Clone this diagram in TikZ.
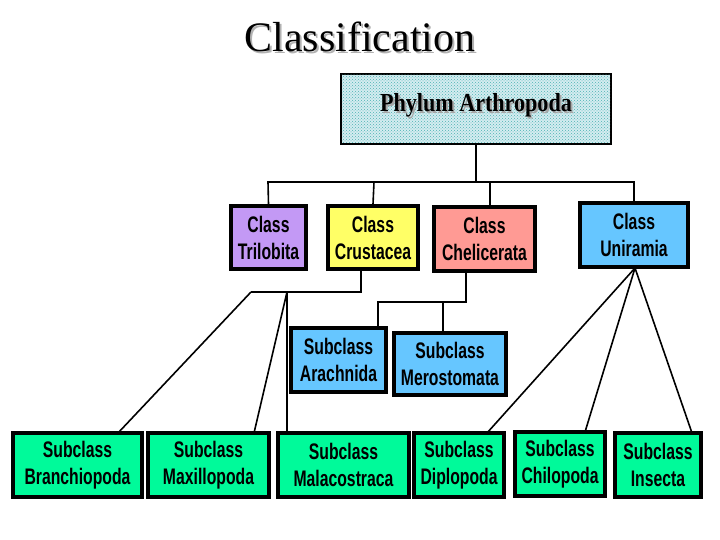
\documentclass[tikz,border=0pt]{standalone}
\usepackage{fontspec}
\setmainfont{Liberation Sans}
\newfontfamily\boxf[FakeStretch=0.7]{Liberation Sans}
\newfontfamily\serf[FakeStretch=0.85]{Liberation Serif}
\newfontfamily\titf{Liberation Serif}
\usetikzlibrary{patterns}
\definecolor{purp}{HTML}{C399F5}
\definecolor{yel}{HTML}{FFFF66}
\definecolor{sal}{HTML}{FF9A94}
\definecolor{sky}{HTML}{66C6FF}
\definecolor{grn}{HTML}{00FA9A}
\definecolor{pale}{HTML}{D4ECF0}
\tikzset{
 bx/.style={draw=black,line width=3.5pt,inner sep=0pt,align=center,font=\boxf\bfseries\fontsize{22.5}{27}\selectfont},
 ln/.style={line width=1.6pt,black},
}
\begin{document}
\begin{tikzpicture}[x=1pt,y=-1pt]
\useasboundingbox (0,0) rectangle (720,540);
\fill[white] (0,0) rectangle (720,540);
\node[font=\titf\fontsize{42}{46}\selectfont,text=black!30] (tsh) at (362,39) {Classification};
\node[font=\titf\fontsize{42}{46}\selectfont] (t) at (360,37) {Classification};
% phylum
\node[draw=black,line width=2.5pt,fill=pale,minimum width=270,minimum height=70] (ph) at (476,109) {};
\fill[pattern=crosshatch dots,pattern color=cyan!40!gray] (342,75) rectangle (610,143);
\node[font=\serf\bfseries\fontsize{26}{30}\selectfont,text=black!35] (phs) at (478,107) {Phylum Arthropoda};
\node[font=\serf\bfseries\fontsize{26}{30}\selectfont] (pht) at (476,105) {Phylum Arthropoda};
% classes
\node[bx,fill=purp,minimum width=75,minimum height=63] (tri) at (268.5,237.5) {Class\\Trilobita};
\node[bx,fill=yel,minimum width=90,minimum height=63] (cru) at (373,237.5) {Class\\Crustacea};
\node[bx,fill=sal,minimum width=101,minimum height=64] (che) at (484.5,239) {Class\\Chelicerata};
\node[bx,fill=sky,minimum width=108,minimum height=64] (uni) at (634,235) {Class\\Uniramia};
% subclasses mid
\node[bx,fill=sky,minimum width=95,minimum height=64] (ara) at (338.5,360) {Subclass\\Arachnida};
\node[bx,fill=sky,minimum width=112,minimum height=62] (mer) at (450,364) {Subclass\\Merostomata};
% bottom
\node[bx,fill=grn,minimum width=129,minimum height=64] (bra) at (77.5,465) {Subclass\\Branchiopoda};
\node[bx,fill=grn,minimum width=121,minimum height=64] (max) at (208.5,465) {Subclass\\Maxillopoda};
\node[bx,fill=grn,minimum width=131,minimum height=64] (mal) at (343.5,465) {Subclass\\Malacostraca};
\node[bx,fill=grn,minimum width=90,minimum height=64] (dip) at (459,465) {Subclass\\Diplopoda};
\node[bx,fill=grn,minimum width=90,minimum height=64] (chi) at (560,464) {Subclass\\Chilopoda};
\node[bx,fill=grn,minimum width=86,minimum height=64] (ins) at (658,465) {Subclass\\Insecta};
% connectors
\coordinate (bus) at (476,182);
\draw[ln] (ph.south) -- (bus);
\draw[ln] (tri.north) -- (268,182) -- (634,182) -- (uni.north);
\draw[ln] (374,182) -- (cru.north);
\draw[ln] (490,182) -- (490,207);
\coordinate (cb) at (361,292);
\coordinate (cl) at (251,292);
\coordinate (cm) at (287,292);
\draw[ln] (361,269) -- (cb) -- (cl);
\draw[ln] (cl) -- (118,433);
\draw[ln] (cm) -- (254,433);
\draw[ln] (cm) -- (287,433);
\draw[ln] (466,271) -- (466,302) -- (378,302) -- (378,328);
\draw[ln] (443,302) -- (443,333);
\coordinate (ub) at (635,268);
\draw[ln] (ub) -- (487,433);
\draw[ln] (ub) -- (585,432);
\draw[ln] (ub) -- (692,433);
\end{tikzpicture}
\end{document}
